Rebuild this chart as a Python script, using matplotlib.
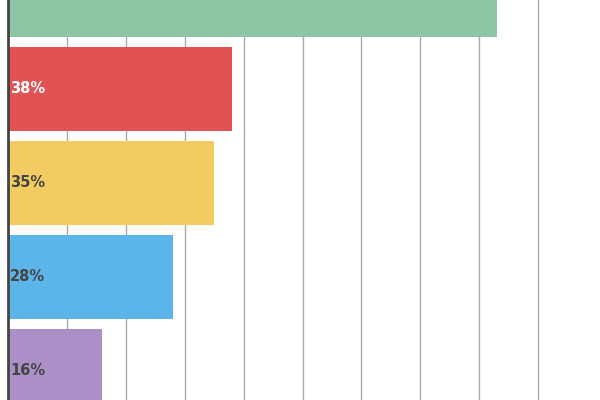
import matplotlib.pyplot as plt

values = [83, 38, 35, 28, 16]
labels = ['83%', '38%', '35%', '28%', '16%']
colors = ['#8dc6a5', '#e05254', '#f2cb62', '#5bb5e8', '#ab90c8']
text_colors = ['#444444', '#ffffff', '#444444', '#444444', '#444444']

fig = plt.figure(figsize=(6, 4), dpi=100)
ax = fig.add_axes([8 / 600, 0, 592 / 600, 1])
pos = list(range(len(values)))
ax.barh(pos, values, height=0.9, color=colors, zorder=2)
for p, lab, tc in zip(pos, labels, text_colors):
    ax.text(0.4, p, lab, ha='left', va='center', fontsize=10.5,
            fontweight='bold', color=tc, zorder=3)

ax.set_xlim(0, 100.5)
ax.set_ylim(4.31, 0.053)
ax.set_xticks(range(10, 100, 10))
ax.grid(axis='x', color='#aaaaaa', linewidth=1, zorder=0)
ax.tick_params(length=0, labelbottom=False, labelleft=False)
for s in ['top', 'right', 'bottom']:
    ax.spines[s].set_visible(False)
ax.spines['left'].set_color('#444444')
ax.spines['left'].set_linewidth(2)
ax.set_yticks([])

fig.savefig('out.png')
